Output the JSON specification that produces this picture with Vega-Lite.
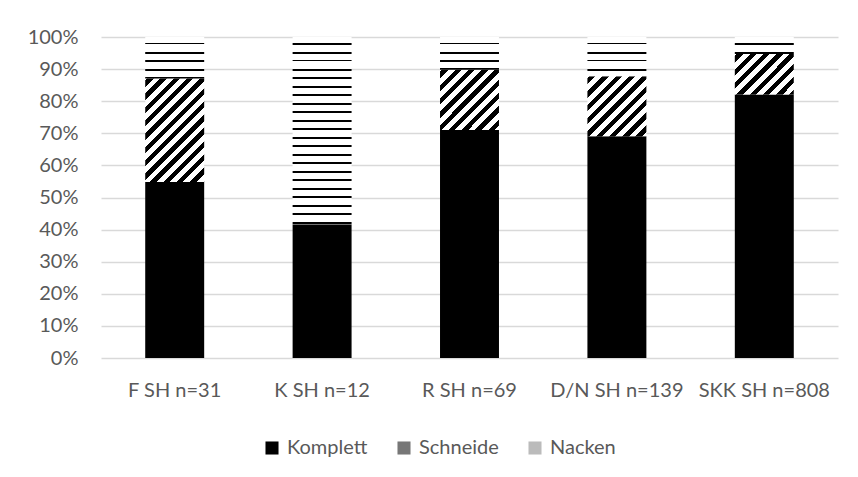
{
  "$schema": "https://vega.github.io/schema/vega-lite/v6.json",
  "width": 737,
  "height": 321,
  "autosize": {"type": "none"},
  "padding": {"left": 101, "top": 37, "right": 20, "bottom": 119},
  "background": "white",
  "config": {
    "view": {"stroke": null},
    "font": "Lato",
    "axis": {"labelFont": "Lato", "labelColor": "#595959", "labelFontSize": 20, "ticks": false, "domain": false, "title": null},
    "legend": {"labelFont": "Lato", "labelColor": "#595959", "labelFontSize": 20}
  },
  "data": {
    "values": [
      {"grp": "F SH n=31", "cat": "Komplett", "val": 0.548},
      {"grp": "F SH n=31", "cat": "Schneide", "val": 0.323},
      {"grp": "F SH n=31", "cat": "Nacken", "val": 0.129},
      {"grp": "K SH n=12", "cat": "Komplett", "val": 0.417},
      {"grp": "K SH n=12", "cat": "Schneide", "val": 0.0},
      {"grp": "K SH n=12", "cat": "Nacken", "val": 0.583},
      {"grp": "R SH n=69", "cat": "Komplett", "val": 0.710},
      {"grp": "R SH n=69", "cat": "Schneide", "val": 0.188},
      {"grp": "R SH n=69", "cat": "Nacken", "val": 0.102},
      {"grp": "D/N SH n=139", "cat": "Komplett", "val": 0.691},
      {"grp": "D/N SH n=139", "cat": "Schneide", "val": 0.187},
      {"grp": "D/N SH n=139", "cat": "Nacken", "val": 0.122},
      {"grp": "SKK SH n=808", "cat": "Komplett", "val": 0.821},
      {"grp": "SKK SH n=808", "cat": "Schneide", "val": 0.126},
      {"grp": "SKK SH n=808", "cat": "Nacken", "val": 0.053}
    ]
  },
  "transform": [
    {"calculate": "indexof(['Komplett', 'Schneide', 'Nacken'], datum.cat)", "as": "stackKey"}
  ],
  "mark": {"type": "bar"},
  "encoding": {
    "x": {
      "field": "grp", "type": "nominal", "sort": null,
      "scale": {"paddingInner": 0.6, "paddingOuter": 0.3},
      "axis": {"labelAngle": 0, "labelPadding": 22, "grid": false}
    },
    "y": {
      "field": "val", "type": "quantitative", "stack": "zero",
      "scale": {"domain": [0, 1], "nice": false},
      "axis": {"format": ".0%", "values": [0,0.1,0.2,0.3,0.4,0.5,0.6,0.7,0.8,0.9,1], "labelPadding": 23, "grid": true, "gridColor": "#d9d9d9", "gridWidth": 1.3}
    },
    "order": {"field": "stackKey", "type": "quantitative", "sort": "ascending"},
    "fill": {
      "field": "cat", "type": "nominal",
      "scale": {
        "domain": ["Komplett", "Schneide", "Nacken"],
        "range": ["#000000", "#777777", "#bbbbbb"]
      },
      "legend": {
        "orient": "none", "legendX": 161, "legendY": 401, "direction": "horizontal",
        "title": null, "symbolType": "square", "symbolSize": 170, "symbolStrokeWidth": 0,
        "columnPadding": 26, "labelOffset": 5, "padding": 0
      },
      "condition": [
        {"test": "datum.cat === 'Nacken' && datum.grp === 'F SH n=31'", "value":
          {"gradient": "linear", "x1": 0, "y1": 0, "x2": 0, "y2": 1, "stops": [
            {"offset": 0, "color": "#fff"}, {"offset": 0.152, "color": "#fff"}, {"offset": 0.152, "color": "#000"}, {"offset": 0.181, "color": "#000"}, {"offset": 0.181, "color": "#fff"},
            {"offset": 0.357, "color": "#fff"}, {"offset": 0.357, "color": "#000"}, {"offset": 0.406, "color": "#000"}, {"offset": 0.406, "color": "#fff"},
            {"offset": 0.563, "color": "#fff"}, {"offset": 0.563, "color": "#000"}, {"offset": 0.592, "color": "#000"}, {"offset": 0.592, "color": "#fff"},
            {"offset": 0.768, "color": "#fff"}, {"offset": 0.768, "color": "#000"}, {"offset": 0.816, "color": "#000"}, {"offset": 0.816, "color": "#fff"},
            {"offset": 0.973, "color": "#fff"}, {"offset": 0.973, "color": "#000"}, {"offset": 1, "color": "#000"}]}},
        {"test": "datum.cat === 'Nacken' && datum.grp === 'K SH n=12'", "value":
          {"gradient": "linear", "x1": 0, "y1": 0, "x2": 0, "y2": 1, "stops": [
            {"offset": 0, "color": "#fff"},
            {"offset": 0.0337, "color": "#fff"}, {"offset": 0.0337, "color": "#000"}, {"offset": 0.0401, "color": "#000"}, {"offset": 0.0401, "color": "#fff"},
            {"offset": 0.0791, "color": "#fff"}, {"offset": 0.0791, "color": "#000"}, {"offset": 0.0898, "color": "#000"}, {"offset": 0.0898, "color": "#fff"},
            {"offset": 0.1245, "color": "#fff"}, {"offset": 0.1245, "color": "#000"}, {"offset": 0.1309, "color": "#000"}, {"offset": 0.1309, "color": "#fff"},
            {"offset": 0.1700, "color": "#fff"}, {"offset": 0.1700, "color": "#000"}, {"offset": 0.1807, "color": "#000"}, {"offset": 0.1807, "color": "#fff"},
            {"offset": 0.2154, "color": "#fff"}, {"offset": 0.2154, "color": "#000"}, {"offset": 0.2218, "color": "#000"}, {"offset": 0.2218, "color": "#fff"},
            {"offset": 0.2608, "color": "#fff"}, {"offset": 0.2608, "color": "#000"}, {"offset": 0.2715, "color": "#000"}, {"offset": 0.2715, "color": "#fff"},
            {"offset": 0.3063, "color": "#fff"}, {"offset": 0.3063, "color": "#000"}, {"offset": 0.3127, "color": "#000"}, {"offset": 0.3127, "color": "#fff"},
            {"offset": 0.3517, "color": "#fff"}, {"offset": 0.3517, "color": "#000"}, {"offset": 0.3624, "color": "#000"}, {"offset": 0.3624, "color": "#fff"},
            {"offset": 0.3971, "color": "#fff"}, {"offset": 0.3971, "color": "#000"}, {"offset": 0.4035, "color": "#000"}, {"offset": 0.4035, "color": "#fff"},
            {"offset": 0.4425, "color": "#fff"}, {"offset": 0.4425, "color": "#000"}, {"offset": 0.4532, "color": "#000"}, {"offset": 0.4532, "color": "#fff"},
            {"offset": 0.4880, "color": "#fff"}, {"offset": 0.4880, "color": "#000"}, {"offset": 0.4944, "color": "#000"}, {"offset": 0.4944, "color": "#fff"},
            {"offset": 0.5334, "color": "#fff"}, {"offset": 0.5334, "color": "#000"}, {"offset": 0.5441, "color": "#000"}, {"offset": 0.5441, "color": "#fff"},
            {"offset": 0.5788, "color": "#fff"}, {"offset": 0.5788, "color": "#000"}, {"offset": 0.5852, "color": "#000"}, {"offset": 0.5852, "color": "#fff"},
            {"offset": 0.6243, "color": "#fff"}, {"offset": 0.6243, "color": "#000"}, {"offset": 0.6350, "color": "#000"}, {"offset": 0.6350, "color": "#fff"},
            {"offset": 0.6697, "color": "#fff"}, {"offset": 0.6697, "color": "#000"}, {"offset": 0.6761, "color": "#000"}, {"offset": 0.6761, "color": "#fff"},
            {"offset": 0.7151, "color": "#fff"}, {"offset": 0.7151, "color": "#000"}, {"offset": 0.7258, "color": "#000"}, {"offset": 0.7258, "color": "#fff"},
            {"offset": 0.7606, "color": "#fff"}, {"offset": 0.7606, "color": "#000"}, {"offset": 0.7670, "color": "#000"}, {"offset": 0.7670, "color": "#fff"},
            {"offset": 0.8060, "color": "#fff"}, {"offset": 0.8060, "color": "#000"}, {"offset": 0.8167, "color": "#000"}, {"offset": 0.8167, "color": "#fff"},
            {"offset": 0.8514, "color": "#fff"}, {"offset": 0.8514, "color": "#000"}, {"offset": 0.8578, "color": "#000"}, {"offset": 0.8578, "color": "#fff"},
            {"offset": 0.8968, "color": "#fff"}, {"offset": 0.8968, "color": "#000"}, {"offset": 0.9075, "color": "#000"}, {"offset": 0.9075, "color": "#fff"},
            {"offset": 0.9423, "color": "#fff"}, {"offset": 0.9423, "color": "#000"}, {"offset": 0.9487, "color": "#000"}, {"offset": 0.9487, "color": "#fff"},
            {"offset": 0.9877, "color": "#fff"}, {"offset": 0.9877, "color": "#000"}, {"offset": 0.9984, "color": "#000"}, {"offset": 0.9984, "color": "#fff"},
            {"offset": 1, "color": "#fff"}]}},
        {"test": "datum.cat === 'Nacken' && datum.grp === 'R SH n=69'", "value":
          {"gradient": "linear", "x1": 0, "y1": 0, "x2": 0, "y2": 1, "stops": [
            {"offset": 0, "color": "#fff"}, {"offset": 0.193, "color": "#fff"}, {"offset": 0.193, "color": "#000"}, {"offset": 0.229, "color": "#000"}, {"offset": 0.229, "color": "#fff"},
            {"offset": 0.453, "color": "#fff"}, {"offset": 0.453, "color": "#000"}, {"offset": 0.514, "color": "#000"}, {"offset": 0.514, "color": "#fff"},
            {"offset": 0.713, "color": "#fff"}, {"offset": 0.713, "color": "#000"}, {"offset": 0.749, "color": "#000"}, {"offset": 0.749, "color": "#fff"},
            {"offset": 0.955, "color": "#fff"}, {"offset": 0.955, "color": "#000"}, {"offset": 1, "color": "#000"}]}},
        {"test": "datum.cat === 'Nacken' && datum.grp === 'D/N SH n=139'", "value":
          {"gradient": "linear", "x1": 0, "y1": 0, "x2": 0, "y2": 1, "stops": [
            {"offset": 0, "color": "#fff"}, {"offset": 0.161, "color": "#fff"}, {"offset": 0.161, "color": "#000"}, {"offset": 0.191, "color": "#000"}, {"offset": 0.191, "color": "#fff"},
            {"offset": 0.378, "color": "#fff"}, {"offset": 0.378, "color": "#000"}, {"offset": 0.429, "color": "#000"}, {"offset": 0.429, "color": "#fff"},
            {"offset": 0.594, "color": "#fff"}, {"offset": 0.594, "color": "#000"}, {"offset": 0.625, "color": "#000"}, {"offset": 0.625, "color": "#fff"},
            {"offset": 0.811, "color": "#fff"}, {"offset": 0.811, "color": "#000"}, {"offset": 0.862, "color": "#000"}, {"offset": 0.862, "color": "#fff"},
            {"offset": 1, "color": "#fff"}]}},
        {"test": "datum.cat === 'Nacken' && datum.grp === 'SKK SH n=808'", "value":
          {"gradient": "linear", "x1": 0, "y1": 0, "x2": 0, "y2": 1, "stops": [
            {"offset": 0, "color": "#fff"}, {"offset": 0.371, "color": "#fff"}, {"offset": 0.371, "color": "#000"}, {"offset": 0.441, "color": "#000"}, {"offset": 0.441, "color": "#fff"},
            {"offset": 0.871, "color": "#fff"}, {"offset": 0.871, "color": "#000"}, {"offset": 0.988, "color": "#000"}, {"offset": 0.988, "color": "#fff"},
            {"offset": 1, "color": "#fff"}]}},
        {"test": "datum.cat === 'Schneide' && datum.grp === 'F SH n=31'", "value":
          {"gradient": "linear", "x1": 0, "y1": 0, "x2": 1, "y2": 1.758, "stops": [
            {"offset": 0, "color": "#fff"},
            {"offset": 0.0083, "color": "#fff"}, {"offset": 0.0083, "color": "#000"}, {"offset": 0.0348, "color": "#000"}, {"offset": 0.0348, "color": "#fff"},
            {"offset": 0.0634, "color": "#fff"}, {"offset": 0.0634, "color": "#000"}, {"offset": 0.0899, "color": "#000"}, {"offset": 0.0899, "color": "#fff"},
            {"offset": 0.1185, "color": "#fff"}, {"offset": 0.1185, "color": "#000"}, {"offset": 0.1450, "color": "#000"}, {"offset": 0.1450, "color": "#fff"},
            {"offset": 0.1736, "color": "#fff"}, {"offset": 0.1736, "color": "#000"}, {"offset": 0.2002, "color": "#000"}, {"offset": 0.2002, "color": "#fff"},
            {"offset": 0.2288, "color": "#fff"}, {"offset": 0.2288, "color": "#000"}, {"offset": 0.2553, "color": "#000"}, {"offset": 0.2553, "color": "#fff"},
            {"offset": 0.2839, "color": "#fff"}, {"offset": 0.2839, "color": "#000"}, {"offset": 0.3104, "color": "#000"}, {"offset": 0.3104, "color": "#fff"},
            {"offset": 0.3390, "color": "#fff"}, {"offset": 0.3390, "color": "#000"}, {"offset": 0.3655, "color": "#000"}, {"offset": 0.3655, "color": "#fff"},
            {"offset": 0.3941, "color": "#fff"}, {"offset": 0.3941, "color": "#000"}, {"offset": 0.4206, "color": "#000"}, {"offset": 0.4206, "color": "#fff"},
            {"offset": 0.4492, "color": "#fff"}, {"offset": 0.4492, "color": "#000"}, {"offset": 0.4758, "color": "#000"}, {"offset": 0.4758, "color": "#fff"},
            {"offset": 0.5044, "color": "#fff"}, {"offset": 0.5044, "color": "#000"}, {"offset": 0.5309, "color": "#000"}, {"offset": 0.5309, "color": "#fff"},
            {"offset": 0.5595, "color": "#fff"}, {"offset": 0.5595, "color": "#000"}, {"offset": 0.5860, "color": "#000"}, {"offset": 0.5860, "color": "#fff"},
            {"offset": 0.6146, "color": "#fff"}, {"offset": 0.6146, "color": "#000"}, {"offset": 0.6411, "color": "#000"}, {"offset": 0.6411, "color": "#fff"},
            {"offset": 0.6697, "color": "#fff"}, {"offset": 0.6697, "color": "#000"}, {"offset": 0.6962, "color": "#000"}, {"offset": 0.6962, "color": "#fff"},
            {"offset": 1, "color": "#fff"}]}},
        {"test": "datum.cat === 'Schneide' && datum.grp === 'R SH n=69'", "value":
          {"gradient": "linear", "x1": 0, "y1": 0, "x2": 1, "y2": 1.022, "stops": [
            {"offset": 0, "color": "#fff"},
            {"offset": 0.0166, "color": "#fff"}, {"offset": 0.0166, "color": "#000"}, {"offset": 0.0697, "color": "#000"}, {"offset": 0.0697, "color": "#fff"},
            {"offset": 0.1269, "color": "#fff"}, {"offset": 0.1269, "color": "#000"}, {"offset": 0.1799, "color": "#000"}, {"offset": 0.1799, "color": "#fff"},
            {"offset": 0.2371, "color": "#fff"}, {"offset": 0.2371, "color": "#000"}, {"offset": 0.2902, "color": "#000"}, {"offset": 0.2902, "color": "#fff"},
            {"offset": 0.3474, "color": "#fff"}, {"offset": 0.3474, "color": "#000"}, {"offset": 0.4005, "color": "#000"}, {"offset": 0.4005, "color": "#fff"},
            {"offset": 0.4577, "color": "#fff"}, {"offset": 0.4577, "color": "#000"}, {"offset": 0.5108, "color": "#000"}, {"offset": 0.5108, "color": "#fff"},
            {"offset": 0.5680, "color": "#fff"}, {"offset": 0.5680, "color": "#000"}, {"offset": 0.6211, "color": "#000"}, {"offset": 0.6211, "color": "#fff"},
            {"offset": 0.6783, "color": "#fff"}, {"offset": 0.6783, "color": "#000"}, {"offset": 0.7313, "color": "#000"}, {"offset": 0.7313, "color": "#fff"},
            {"offset": 0.7886, "color": "#fff"}, {"offset": 0.7886, "color": "#000"}, {"offset": 0.8416, "color": "#000"}, {"offset": 0.8416, "color": "#fff"},
            {"offset": 0.8988, "color": "#fff"}, {"offset": 0.8988, "color": "#000"}, {"offset": 0.9519, "color": "#000"}, {"offset": 0.9519, "color": "#fff"},
            {"offset": 1, "color": "#fff"}]}},
        {"test": "datum.cat === 'Schneide' && datum.grp === 'D/N SH n=139'", "value":
          {"gradient": "linear", "x1": 0, "y1": 0, "x2": 1, "y2": 1.017, "stops": [
            {"offset": 0, "color": "#fff"},
            {"offset": 0.0167, "color": "#fff"}, {"offset": 0.0167, "color": "#000"}, {"offset": 0.0700, "color": "#000"}, {"offset": 0.0700, "color": "#fff"},
            {"offset": 0.1275, "color": "#fff"}, {"offset": 0.1275, "color": "#000"}, {"offset": 0.1808, "color": "#000"}, {"offset": 0.1808, "color": "#fff"},
            {"offset": 0.2383, "color": "#fff"}, {"offset": 0.2383, "color": "#000"}, {"offset": 0.2917, "color": "#000"}, {"offset": 0.2917, "color": "#fff"},
            {"offset": 0.3492, "color": "#fff"}, {"offset": 0.3492, "color": "#000"}, {"offset": 0.4025, "color": "#000"}, {"offset": 0.4025, "color": "#fff"},
            {"offset": 0.4600, "color": "#fff"}, {"offset": 0.4600, "color": "#000"}, {"offset": 0.5133, "color": "#000"}, {"offset": 0.5133, "color": "#fff"},
            {"offset": 0.5708, "color": "#fff"}, {"offset": 0.5708, "color": "#000"}, {"offset": 0.6242, "color": "#000"}, {"offset": 0.6242, "color": "#fff"},
            {"offset": 0.6817, "color": "#fff"}, {"offset": 0.6817, "color": "#000"}, {"offset": 0.7350, "color": "#000"}, {"offset": 0.7350, "color": "#fff"},
            {"offset": 0.7925, "color": "#fff"}, {"offset": 0.7925, "color": "#000"}, {"offset": 0.8458, "color": "#000"}, {"offset": 0.8458, "color": "#fff"},
            {"offset": 0.9033, "color": "#fff"}, {"offset": 0.9033, "color": "#000"}, {"offset": 0.9567, "color": "#000"}, {"offset": 0.9567, "color": "#fff"},
            {"offset": 1, "color": "#fff"}]}},
        {"test": "datum.cat === 'Schneide' && datum.grp === 'SKK SH n=808'", "value":
          {"gradient": "linear", "x1": 0, "y1": 0, "x2": 1.5, "y2": 1.027, "stops": [
            {"offset": 0, "color": "#fff"},
            {"offset": 0.0154, "color": "#fff"}, {"offset": 0.0154, "color": "#000"}, {"offset": 0.0646, "color": "#000"}, {"offset": 0.0646, "color": "#fff"},
            {"offset": 0.1176, "color": "#fff"}, {"offset": 0.1176, "color": "#000"}, {"offset": 0.1669, "color": "#000"}, {"offset": 0.1669, "color": "#fff"},
            {"offset": 0.2199, "color": "#fff"}, {"offset": 0.2199, "color": "#000"}, {"offset": 0.2691, "color": "#000"}, {"offset": 0.2691, "color": "#fff"},
            {"offset": 0.3222, "color": "#fff"}, {"offset": 0.3222, "color": "#000"}, {"offset": 0.3714, "color": "#000"}, {"offset": 0.3714, "color": "#fff"},
            {"offset": 0.4245, "color": "#fff"}, {"offset": 0.4245, "color": "#000"}, {"offset": 0.4737, "color": "#000"}, {"offset": 0.4737, "color": "#fff"},
            {"offset": 0.5267, "color": "#fff"}, {"offset": 0.5267, "color": "#000"}, {"offset": 0.5759, "color": "#000"}, {"offset": 0.5759, "color": "#fff"},
            {"offset": 0.6290, "color": "#fff"}, {"offset": 0.6290, "color": "#000"}, {"offset": 0.6782, "color": "#000"}, {"offset": 0.6782, "color": "#fff"},
            {"offset": 0.7313, "color": "#fff"}, {"offset": 0.7313, "color": "#000"}, {"offset": 0.7805, "color": "#000"}, {"offset": 0.7805, "color": "#fff"},
            {"offset": 1, "color": "#fff"}]}}
      ]
    }
  }
}
